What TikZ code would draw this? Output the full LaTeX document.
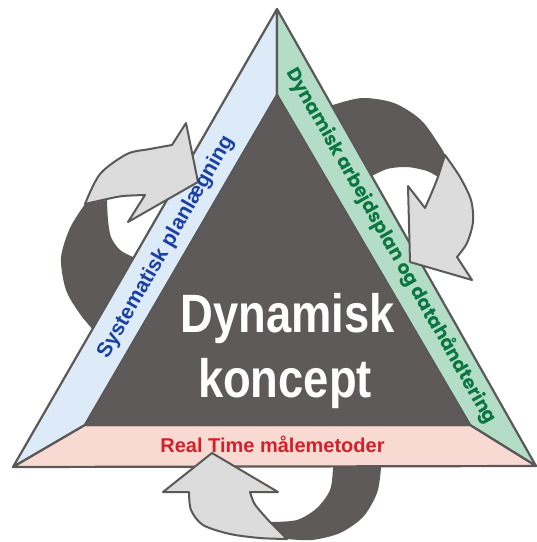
\documentclass[tikz,border=0pt]{standalone}
\usepackage{fontspec}
\setmainfont{Liberation Sans}
\newfontfamily\popfont{Poppins}
\definecolor{darkfill}{HTML}{5E5A59}
\definecolor{edgecol}{HTML}{5B5958}
\definecolor{headfill}{HTML}{DCDCDC}
\definecolor{bluefill}{HTML}{DDEAF7}
\definecolor{greenfill}{HTML}{B4DDC7}
\definecolor{pinkfill}{HTML}{F9DAD2}
\definecolor{bluetext}{HTML}{1B40A3}
\definecolor{greentext}{HTML}{0B7641}
\definecolor{redtext}{HTML}{D2212A}
\begin{document}
\begin{tikzpicture}[x=1pt,y=-1pt,
  tailpart/.style={fill=darkfill},
  headpart/.style={fill=headfill,draw=edgecol,line width=2pt,line join=round},
  facepart/.style={draw=edgecol,line width=2.2pt,line join=round},
  bandtext/.style={inner sep=0pt,font=\fontsize{21}{25}\selectfont\bfseries},
  bigtext/.style={anchor=base,inner sep=0pt,text=white,font=\fontsize{54}{60}\selectfont\bfseries}]
\fill[white] (0,0) rectangle (537,542);
\useasboundingbox (0,0) rectangle (537,542);
% corners
\coordinate (OA) at (277,9);
\coordinate (OL) at (13,467);
\coordinate (OR) at (536,466);
\coordinate (IA) at (277,95);
\coordinate (IL) at (85,425);
\coordinate (IR) at (470,425);
% dark tails (behind triangle)
\fill[tailpart] (85,204) -- plot[smooth] coordinates {(85,204) (70,228) (61,258) (66,290) (80,314) (95,332)}
  -- (140,315) -- (155,270) -- plot[smooth] coordinates {(133,257) (120,250) (111,237) (108,220) (107,200)} -- cycle;
\fill[tailpart] (445,155) -- plot[smooth] coordinates {(445,155) (440,146) (421,120) (394,103) (362,98) (333,105)}
  -- (318,112) -- (345,165) -- plot[smooth] coordinates {(370,177) (387,169) (407,167) (427,171) (438,177)} -- cycle;
\fill[tailpart] (287,539) -- plot[smooth] coordinates {(287,539) (312,540) (340,533) (363,517) (377,493) (381,468) (382,445)}
  -- (333,445) -- plot[smooth] coordinates {(333,445) (333,468) (330,490) (317,508) (297,520) (270,522)} -- cycle;
% triangle faces
\filldraw[facepart,fill=bluefill] (OA) -- (OL) -- (IL) -- (IA) -- cycle;
\filldraw[facepart,fill=greenfill] (OA) -- (IA) -- (IR) -- (OR) -- cycle;
\filldraw[facepart,fill=pinkfill] (OL) -- (OR) -- (IR) -- (IL) -- cycle;
\filldraw[facepart,fill=darkfill] (IA) -- (IL) -- (IR) -- cycle;
% light arrow heads
\filldraw[headpart] (85,204) -- plot[smooth] coordinates {(85,204) (100,174) (127,154) (150,149) (172,145)}
  -- (186,123) -- (198,182) -- (128,222) -- (145,195)
  -- plot[smooth] coordinates {(145,195) (123,196) (107,199) (85,204)} -- cycle;
\filldraw[headpart] (445,155) -- plot[smooth] coordinates {(445,155) (460,177) (471,200) (473,222) (467,243) (457,257)}
  -- (472,280) -- (410,262) -- (408,186) -- (425,208)
  -- plot[smooth] coordinates {(425,208) (432,192) (438,177)} -- cycle;
\filldraw[headpart] (212,453) -- (163,492) -- (189,492)
  -- plot[smooth] coordinates {(189,492) (191,510) (203,525) (230,534) (260,538) (287,539)}
  -- (270,522) -- plot[smooth] coordinates {(270,522) (261,512) (254,503) (250,492)}
  -- (278,492) -- cycle;
% texts
\node[bandtext,text=bluetext,rotate=60.1] (lefttxt) at (166,247) {Systematisk planlægning};
\node[bandtext,text=greentext,rotate=-60.4,font=\fontsize{18.7}{22}\selectfont\popfont\bfseries] (righttxt) at (391,246) {Dynamisk arbejdsplan og datahåndtering};
\node[anchor=base,inner sep=0pt,text=redtext,font=\fontsize{20}{24}\selectfont\bfseries] (bottxt) at (272.5,452) {Real Time målemetoder};
\node[bigtext] (t1) at (287.5,332) {\scalebox{0.84}[1]{Dynamisk}};
\node[bigtext] (t2) at (285,397) {\scalebox{0.84}[1]{koncept}};
\end{tikzpicture}
\end{document}
